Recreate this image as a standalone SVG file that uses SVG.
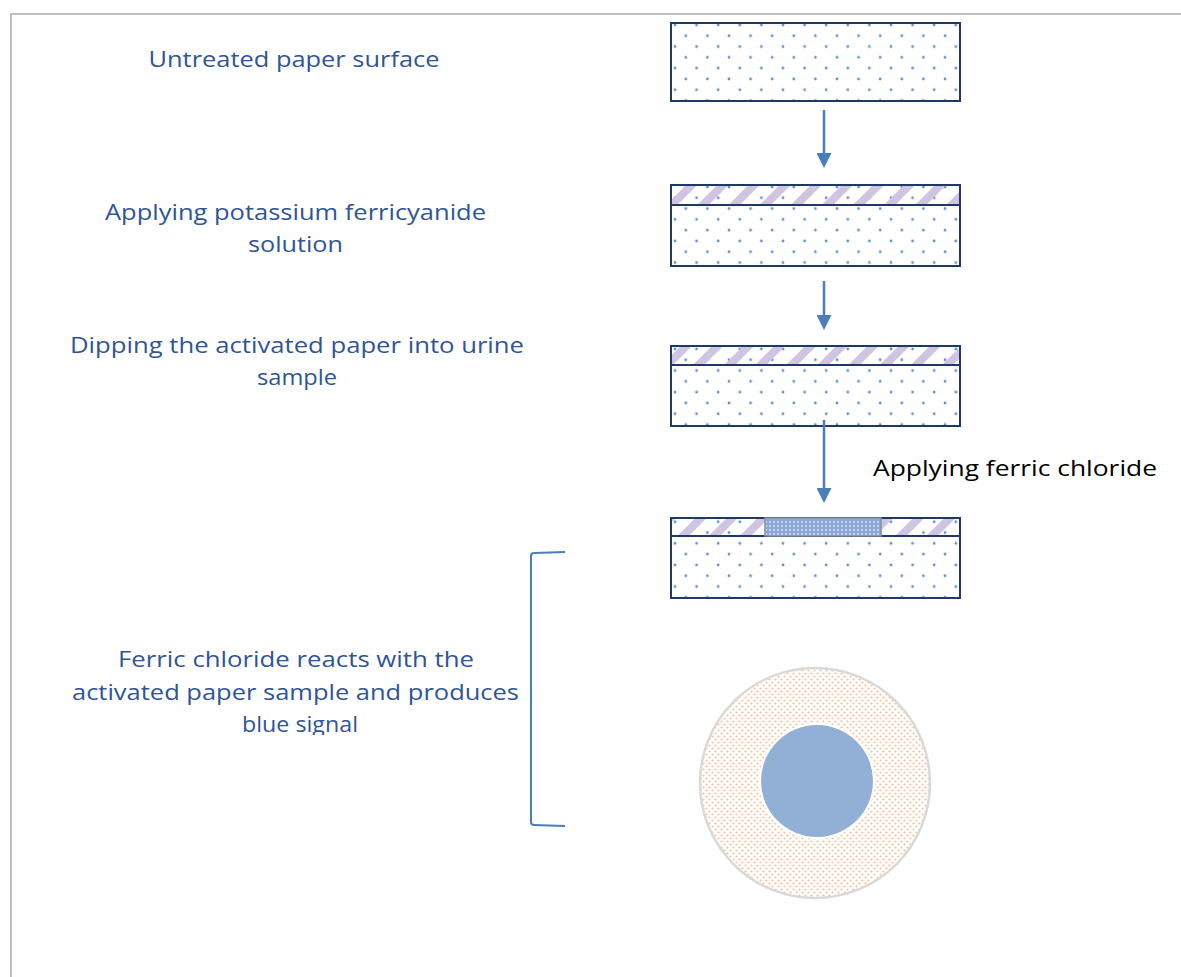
<svg xmlns="http://www.w3.org/2000/svg" width="1181" height="977" viewBox="0 0 1181 977">
<defs>
<pattern id="dots" width="21.6" height="21.6" patternUnits="userSpaceOnUse" x="671" y="23">
<circle cx="4" cy="2" r="1.4" fill="#5b8fd6"/>
<circle cx="14.8" cy="12.8" r="1.4" fill="#5b8fd6"/>
</pattern>
<pattern id="hatch" width="22" height="22" patternUnits="userSpaceOnUse" patternTransform="rotate(45)">
<rect x="0" y="0" width="8" height="22" fill="#cfc4e2"/>
</pattern>
<pattern id="fine" width="4" height="4" patternUnits="userSpaceOnUse">
<rect width="4" height="4" fill="#8eaadb"/>
<circle cx="2" cy="2" r="0.9" fill="#dce6f5"/>
</pattern>
<pattern id="orange" width="6" height="6" patternUnits="userSpaceOnUse">
<circle cx="1.5" cy="1.5" r="1.1" fill="#f7bf96"/>
<circle cx="4.5" cy="4.5" r="1.1" fill="#f7bf96"/>
</pattern>
<marker id="arr" markerWidth="15" markerHeight="15" refX="0" refY="7.5" orient="auto" markerUnits="userSpaceOnUse" viewBox="0 0 15 15">
<path d="M0,0 L15,7.5 L0,15 z" fill="#4a7ebb"/>
</marker>
<clipPath id="clipText"><rect x="0" y="0" width="600" height="735"/></clipPath>
<style>
.lbl{font-family:"Open Sans","Noto Sans","Liberation Sans",sans-serif;font-size:22.5px;fill:#2f5597;text-anchor:middle}
.blk{font-family:"Open Sans","Noto Sans","Liberation Sans",sans-serif;font-size:22.5px;fill:#000000;text-anchor:middle}
.box{fill:url(#dots);stroke:#203864;stroke-width:2}
.band{fill:url(#hatch);stroke:#203864;stroke-width:2}
.arrow{stroke:#4a7ebb;stroke-width:2.5;fill:none}
</style>
</defs>
<rect width="1181" height="977" fill="#ffffff"/>
<g id="frame" stroke="#bfbfbf" stroke-width="2" fill="none">
<path d="M1181,14 L11,14 L11,977"/>
</g>
<g id="labels">
<text class="lbl" x="294" y="67" textLength="291" lengthAdjust="spacingAndGlyphs">Untreated paper surface</text>
<text class="lbl" x="295.5" y="220" textLength="381" lengthAdjust="spacingAndGlyphs">Applying potassium ferricyanide</text>
<text class="lbl" x="295.5" y="252" textLength="95" lengthAdjust="spacingAndGlyphs">solution</text>
<text class="lbl" x="297" y="353" textLength="454" lengthAdjust="spacingAndGlyphs">Dipping the activated paper into urine</text>
<text class="lbl" x="297" y="385" textLength="80" lengthAdjust="spacingAndGlyphs">sample</text>
<g clip-path="url(#clipText)">
<text class="lbl" x="296" y="667" textLength="356" lengthAdjust="spacingAndGlyphs">Ferric chloride reacts with the</text>
<text class="lbl" x="295.5" y="700" textLength="447" lengthAdjust="spacingAndGlyphs">activated paper sample and produces</text>
<text class="lbl" x="300" y="732" textLength="116" lengthAdjust="spacingAndGlyphs">blue signal</text>
</g>
</g>
<g id="node1"><rect class="box" x="671" y="23" width="289" height="78"/></g>
<g id="node2">
<rect class="box" x="671" y="185" width="289" height="81"/>
<rect class="band" x="671" y="185" width="289" height="20"/>
</g>
<g id="node3">
<rect class="box" x="671" y="346" width="289" height="80"/>
<rect class="band" x="671" y="346" width="289" height="19"/>
</g>
<g id="node4">
<rect class="box" x="671" y="518" width="289" height="80"/>
<rect class="band" x="671" y="518" width="289" height="18"/>
<rect x="765" y="518" width="116" height="18" fill="url(#fine)" stroke="#7f8fa6" stroke-width="1.5"/>
</g>
<g id="label-ferric"><text class="blk" x="1015" y="476" textLength="284" lengthAdjust="spacingAndGlyphs">Applying ferric chloride</text></g>
<g id="connectors">
<line class="arrow" x1="824" y1="110" x2="824" y2="153" marker-end="url(#arr)"/>
<line class="arrow" x1="824" y1="281" x2="824" y2="315" marker-end="url(#arr)"/>
<line class="arrow" x1="824" y1="420" x2="824" y2="488" marker-end="url(#arr)"/>
<path d="M565,552 L534,553 Q531,553 531,556 L531,822 Q531,825 534,825 L565,826" stroke="#4a7ebb" stroke-width="2" fill="none"/>
</g>
<g id="result">
<circle cx="815" cy="783" r="115" fill="url(#orange)" stroke="#d9d9d9" stroke-width="2.5"/>
<circle cx="817" cy="781" r="58" fill="#ffffff"/>
<circle cx="817" cy="781" r="56" fill="#92b0d6"/>
</g>
</svg>
